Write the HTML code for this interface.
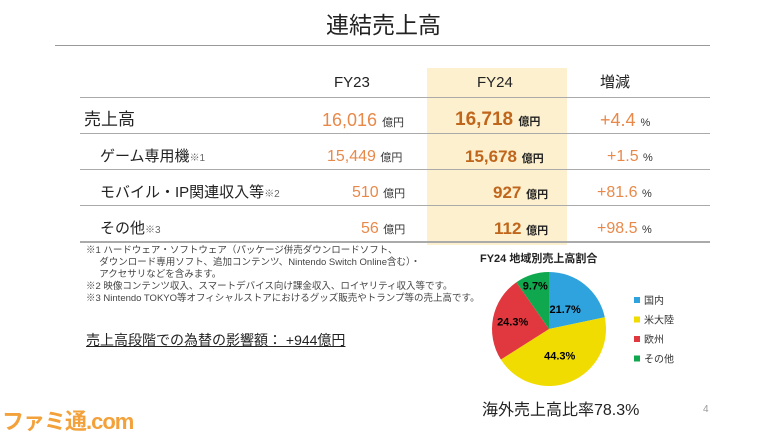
<!DOCTYPE html>
<html><head><meta charset="utf-8">
<style>
body{margin:0;width:767px;height:431px;background:#fff;position:relative;overflow:hidden;font-family:"Liberation Sans","Noto Sans CJK JP",sans-serif;color:#222}
.a{position:absolute;white-space:nowrap}
.r{height:24px;line-height:24px}
.hl{position:absolute;left:427px;top:68px;width:140px;height:177px;background:#fdf0cf}
.ln{position:absolute;left:80px;width:630px;height:1px;background:#aaa}
.o{color:#e8894a}.b{color:#c0661c;font-weight:bold}
.u{font-size:11px;color:#333}.ub{font-size:11px;font-weight:bold;color:#222}
.note{font-size:9.5px;color:#444;line-height:12px}
</style></head><body>
<div class="a" style="left:0;width:767px;text-align:center;top:10px;font-size:23px;line-height:30px">連結売上高</div>
<div class="a" style="left:55px;top:45px;width:655px;height:1px;background:#999"></div>
<div class="hl"></div>
<div>
<div class="a r" style="left:334px;top:71px;font-size:15px">FY23</div>
<div class="a r" style="left:477px;top:71px;font-size:15px">FY24</div>
<div class="a r" style="left:600px;top:71px;font-size:15px">増減</div>
<div class="ln" style="top:97px"></div>
<div class="a r" style="left:84px;top:108px;font-size:17px">売上高</div>
<div class="a r o" style="left:322px;top:108px;font-size:18px">16,016 <span class="u">億円</span></div>
<div class="a r b" style="left:455px;top:108px;font-size:19px">16,718 <span class="ub">億円</span></div>
<div class="a r o" style="left:600px;top:108px;font-size:18px">+4.4 <span class="u">%</span></div>
<div class="ln" style="top:133px"></div>
<div class="a r" style="left:100px;top:145px;font-size:15px">ゲーム専用機<span style="font-size:10px;color:#666">※1</span></div>
<div class="a r o" style="left:327px;top:145px;font-size:16px">15,449 <span class="u">億円</span></div>
<div class="a r b" style="left:465px;top:145px;font-size:17px">15,678 <span class="ub">億円</span></div>
<div class="a r o" style="left:607px;top:145px;font-size:16px">+1.5 <span class="u">%</span></div>
<div class="ln" style="top:169px"></div>
<div class="a r" style="left:100px;top:181px;font-size:15px">モバイル・IP関連収入等<span style="font-size:10px;color:#666">※2</span></div>
<div class="a r o" style="left:352px;top:181px;font-size:16px">510 <span class="u">億円</span></div>
<div class="a r b" style="left:493px;top:181px;font-size:17px">927 <span class="ub">億円</span></div>
<div class="a r o" style="left:597px;top:181px;font-size:16px">+81.6 <span class="u">%</span></div>
<div class="ln" style="top:205px"></div>
<div class="a r" style="left:100px;top:217px;font-size:15px">その他<span style="font-size:10px;color:#666">※3</span></div>
<div class="a r o" style="left:361px;top:217px;font-size:16px">56 <span class="u">億円</span></div>
<div class="a r b" style="left:494px;top:217px;font-size:17px">112 <span class="ub">億円</span></div>
<div class="a r o" style="left:597px;top:217px;font-size:16px">+98.5 <span class="u">%</span></div>
<div class="ln" style="top:241px;height:2px"></div>
</div>
<div class="a note" style="left:86px;top:245px">※1 ハードウェア・ソフトウェア（パッケージ併売ダウンロードソフト、<br>&nbsp;&nbsp;&nbsp;&nbsp;&nbsp;ダウンロード専用ソフト、追加コンテンツ、Nintendo Switch Online含む）・<br>&nbsp;&nbsp;&nbsp;&nbsp;&nbsp;アクセサリなどを含みます。<br>※2 映像コンテンツ収入、スマートデバイス向け課金収入、ロイヤリティ収入等です。<br>※3 Nintendo TOKYO等オフィシャルストアにおけるグッズ販売やトランプ等の売上高です。</div>
<div class="a" style="left:86px;top:330px;font-size:14px;line-height:20px;text-decoration:underline">売上高段階での為替の影響額：&nbsp;+944億円</div>
<div class="a" style="left:480px;top:252px;font-size:11px;line-height:14px;font-weight:bold">FY24 地域別売上高割合</div>
<svg class="a" style="left:0;top:0" width="767" height="431" id="pie"></svg>
<div class="a" style="left:482px;top:401px;font-size:16px;line-height:20px">海外売上高比率78.3%</div>
<div class="a" style="left:703px;top:404px;font-size:10px;color:#999">4</div>
<div class="a" style="left:2px;top:404px;font-size:22px;font-weight:bold;color:#f3a13a;letter-spacing:-1px">ファミ通.com</div>
<script>
const labels=['国内','米大陸','欧州','その他'];
const values=[21.7,44.3,24.3,9.7];
const colors=['#2ea3de','#f0dc00','#e0383e','#10a84e'];
const svg=document.getElementById('pie');const NS='http://www.w3.org/2000/svg';
const cx=549,cy=329,r=57;const tot=values.reduce((a,b)=>a+b,0);
const lrs=[0.45,0.5,0.65,0.8];
let ang=-Math.PI/2;
values.forEach((v,i)=>{
  const a2=ang+v/tot*2*Math.PI;
  const p=document.createElementNS(NS,'path');
  const x1=cx+r*Math.cos(ang),y1=cy+r*Math.sin(ang),x2=cx+r*Math.cos(a2),y2=cy+r*Math.sin(a2);
  p.setAttribute('d',`M${cx},${cy}L${x1},${y1}A${r},${r} 0 ${a2-ang>Math.PI?1:0} 1 ${x2},${y2}Z`);
  p.setAttribute('fill',colors[i]);
  
  
  svg.appendChild(p);
  const m=(ang+a2)/2,lr=r*lrs[i];
  const t=document.createElementNS(NS,'text');
  t.setAttribute('x',cx+lr*Math.cos(m));t.setAttribute('y',cy+lr*Math.sin(m)+4);
  t.setAttribute('text-anchor','middle');t.setAttribute('font-size','11');t.setAttribute('font-weight','bold');
  t.setAttribute('font-family','Liberation Sans, sans-serif');
  t.textContent=v.toFixed(1)+'%';
  
  
  svg.appendChild(t);
  const ly=301+i*19.5;
  const s=document.createElementNS(NS,'rect');
  s.setAttribute('x',634);s.setAttribute('y',ly-4);s.setAttribute('width',6);s.setAttribute('height',6);s.setAttribute('fill',colors[i]);
  
  
  svg.appendChild(s);
  const lt=document.createElementNS(NS,'text');
  lt.setAttribute('x',644);lt.setAttribute('y',ly+3);lt.setAttribute('font-size','10');
  lt.setAttribute('font-family','Liberation Sans, Noto Sans CJK JP, sans-serif');lt.setAttribute('fill','#333');
  lt.textContent=labels[i];
  
  
  svg.appendChild(lt);
  ang=a2;
});
</script>
</body></html>
